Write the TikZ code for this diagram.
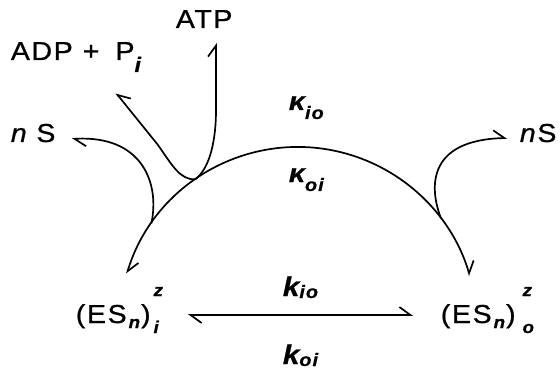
\documentclass[tikz,border=0pt]{standalone}
\usepackage{fontspec}
\setmainfont{Liberation Sans}[LetterSpace=6,FakeBold=0.8,FakeStretch=1.1]
\usetikzlibrary{arrows.meta}
\newcommand\bisub[2][17]{{\fontsize{#1}{#1}\selectfont\bfseries\itshape #2}}
\newcommand\supsub[3]{\makebox[0pt][l]{\raisebox{#3}{\bisub{#1}}}\raisebox{-10pt}{\bisub{#2}}}
\begin{document}
\begin{tikzpicture}[x=1pt,y=1pt,line width=1.7pt,
  harp/.style={-{Straight Barb[harpoon,length=11pt,width=16pt]}},
  harpr/.style={-{Straight Barb[harpoon,swap,length=11pt,width=16pt]}},
  harp2/.style={{Straight Barb[harpoon,length=11pt,width=16pt]}-{Straight Barb[harpoon,length=11pt,width=16pt]}},
  lbl/.style={inner sep=0pt,anchor=base west,font=\fontsize{26}{26}\selectfont}]
\useasboundingbox (0,0) rectangle (560,373);
% circle centre of the big arc
\coordinate (C) at (298,47);
\coordinate (AL) at ([shift={(C)}]163:179);
\coordinate (J1) at ([shift={(C)}]125:179);
\coordinate (J2) at ([shift={(C)}]145:179);
\coordinate (J3) at ([shift={(C)}]37:179);
% free ends
\coordinate (tATP) at (216,330);
\coordinate (tADP) at (116,280);
\coordinate (tSL) at (72,234);
\coordinate (tSR) at (507,235);
% labels
\node[lbl] (atp) at (175,345) {ATP};
\node[lbl] (adp) at (10,313) {ADP\hspace{10pt}+\hspace{16pt}P\raisebox{-12pt}{\bisub[21]{i}}};
\node[lbl] (nsl) at (10,231) {\textit{n}\hspace{8pt}S};
\node[lbl] (nsr) at (519,231) {\textit{n}S};
\node[lbl] (kio) at (288,263) {\bfseries\itshape κ\raisebox{-9pt}{\bisub[18]{io}}};
\node[lbl] (koi) at (288,191) {\bfseries\itshape κ\raisebox{-9pt}{\bisub[18]{oi}}};
\node[lbl] (kkio) at (282,77) {\fontsize{27}{27}\selectfont\bfseries\itshape k\raisebox{-2pt}{\bisub[18]{io}}};
\node[lbl] (kkoi) at (282,9) {\fontsize{27}{27}\selectfont\bfseries\itshape k\raisebox{-2pt}{\bisub[18]{oi}}};
\node[lbl] (esi) at (75,50) {(ES\hspace{2pt}\raisebox{-5pt}{\bisub{n}}\hspace{1pt})\hspace{3pt}\supsub{z}{i}{27pt}};
\node[lbl] (eso) at (440,50) {(ES\hspace{2pt}\raisebox{-5pt}{\bisub{n}}\hspace{1pt})\hspace{7pt}\supsub{z}{o}{27pt}};
% big arc
\draw[harp2] (AL) arc[start angle=163,end angle=16.3,radius=179];
% bottom equilibrium line
\coordinate (bl) at (188,58);
\coordinate (br) at (413,58);
\draw[harp2] (bl) -- (br);
% side branches
\draw[harp] (J1) .. controls (210,205) and (216,233) .. (216,263) -- (tATP);
\draw[harpr] (J1) .. controls (180,193) and (172,208) .. (158,228) -- (tADP);
\draw[harp] (J2) .. controls (160,190) and (142,238) .. (tSL);
\draw[harp] (J3) .. controls (430,183) and (425,233) .. (tSR);
\end{tikzpicture}
\end{document}
